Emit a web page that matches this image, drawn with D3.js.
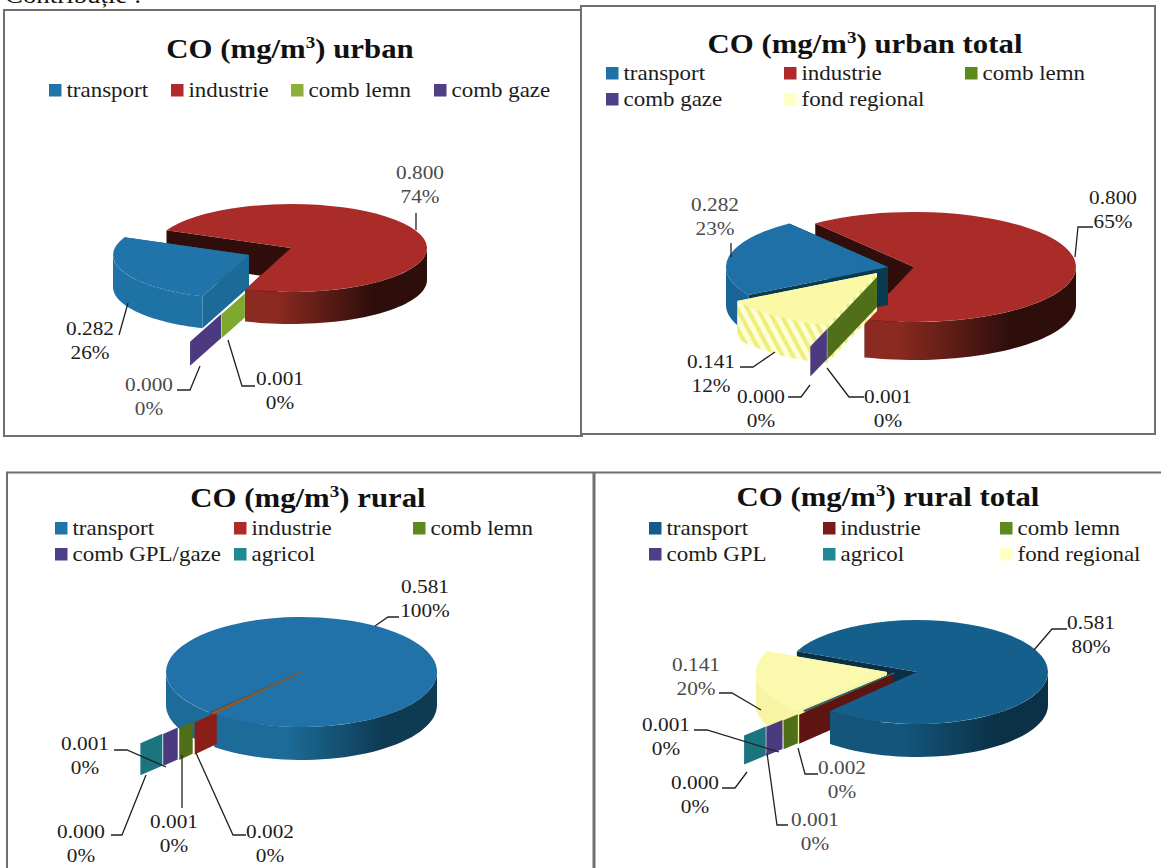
<!DOCTYPE html>
<html><head><meta charset="utf-8">
<script src="https://cdn.jsdelivr.net/npm/d3@7/dist/d3.min.js"></script>
<style>html,body{margin:0;padding:0;background:#fff;overflow:hidden}svg{display:block}
text{font-family:"Liberation Serif","Times New Roman",serif}</style></head>
<body><svg id="c" width="1161" height="868"></svg>
<script>
// ---- data ----
const titles = ["urban", "urban total", "rural", "rural total"];
const catsUrban = ["transport", "industrie", "comb lemn", "comb gaze"];
const catsUrbanTotal = ["transport", "industrie", "comb lemn", "comb gaze", "fond regional"];
const catsRural = ["transport", "industrie", "comb lemn", "comb GPL/gaze", "agricol"];
const catsRuralTotal = ["transport", "industrie", "comb lemn", "comb GPL", "agricol", "fond regional"];
const valsUrban = [0.282, 0.800, 0.001, 0.000];
const valsUrbanTotal = [0.282, 0.800, 0.001, 0.000, 0.141];
const valsRural = [0.581, 0.002, 0.001, 0.001, 0.000];
const valsRuralTotal = [0.581, 0.002, 0.001, 0.001, 0.000, 0.141];
const pctUrban = ["26%", "74%", "0%", "0%"];
const pctUrbanTotal = ["23%", "65%", "0%", "0%", "12%"];
const pctRural = ["100%", "0%", "0%", "0%", "0%"];
const pctRuralTotal = ["80%", "0%", "0%", "0%", "0%", "20%"];

// ---- style ----
const BLUE1 = {top:"#2074aa", wall:"#1b6a98", l:"#1f72a6", r:"#1a6a9c", key:"#2074aa"};
const BLUE = {top:"#2072a8", wall:"#18648f", l:"#1c6b98", r:"#0e3a52", key:"#2074aa"};
const BLUEU = {top:"#1e70a6", wall:"#0a3a50", l:"#19659a", r:"#14557c", key:"#1f72a8"};
const BLUE2 = {top:"#155f8c", wall:"#0b2f44", l:"#14557c", r:"#0b3146", key:"#125a88"};
const RED = {top:"#a92c28", wall:"#2f0e0c", l:"#8a2a20", r:"#2d0e0b", key:"#b02a2c"};
const RED2 = {top:"#6e1512", wall:"#5e1410", l:"#5e1410", r:"#3a0e0b", key:"#7a1a1a"};
const RED3 = {top:"#a0502a", wall:"#8a1f1a", key:"#b02a2c"};
const GRN = {top:"#7fa82f", wall:"#7fa82f", key:"#8db03a"};
const GRN2 = {top:"#58801c", wall:"#4f7018", key:"#5c8a1e"};
const PUR = {top:"#4b3a80", wall:"#4b3a80", key:"#4f3f86"};
const TEAL = {top:"#1b7580", wall:"#1b7580", key:"#1f8a94"};
const YEL = {top:"#fbf9a6", wall:"url(#hatch)", l:"#f6f4a0", r:"#f6f4a0", key:"#ffffc4"};
const YEL2 = {top:"#fbf9ae", wall:"#f7f5a2", l:"#f7f5a2", r:"#f7f5a2", key:"#ffffc4"};

const charts = [
 {title:titles[0], tx:290, ty:58, cats:catsUrban, vals:valsUrban, pct:pctUrban,
  fills:[BLUE1,RED,GRN,PUR], order:[1,0,2,3], prewall:[],
  cx:291, cy:248, rx:136, ry:44, depth:32, start:200, offset:[[-42,7],[0,0],[0,4],[0,4]],
  bands:[null,null,[1,1.5],[1.5,2.17]], tinyDepth:24, sliver:false,
  legend:[[49,90],[171,90],[291,90],[434,90]],
  labels:[
   {x:90,y:329,p:[[119,335],[128,303]]},
   {x:420,y:173,p:[[416,213],[416,230]],gray:1},
   {x:280,y:379,p:[[255,386],[242,386],[228,340]]},
   {x:149,y:385,p:[[177,390],[190,390],[200,366]],gray:1}]},
 {title:titles[1], tx:865, ty:53, cats:catsUrbanTotal, vals:valsUrbanTotal, pct:pctUrbanTotal,
  fills:[BLUEU,RED,GRN2,PUR,YEL], order:[1,0,4,2,3], prewall:[],
  cx:914, cy:267, rx:162, ry:55, depth:38, start:239.5, offset:[[-26,0],[0,0],[-37,10],[-37,10],[-37,6]],
  bands:[null,null,[0,1],[1,1.33],null], tinyDepth:30, sliver:false,
  legend:[[606,73],[784,73],[965,73],[606,99],[784,99]],
  labels:[
   {x:715,y:205,p:[[731,243],[731,257]],gray:1},
   {x:1113,y:198,p:[[1093,227],[1078,227],[1075,257]]},
   {x:888,y:397,p:[[864,397],[849,397],[827,368]]},
   {x:761,y:397,p:[[788,397],[801,397],[810,385]]},
   {x:711,y:362,p:[[740,367],[753,367],[775,352]]}]},
 {title:titles[2], tx:308, ty:507, cats:catsRural, vals:valsRural, pct:pctRural,
  fills:[BLUE,RED3,GRN2,PUR,TEAL], order:[0,4,3,2,1], prewall:[],
  cx:301.5, cy:672, rx:135.5, ry:55, depth:33, start:222.5, offset:[[0,0],[0,0],[0,0],[0,0],[0,0]],
  bands:[null,[.96,1.21],[1.21,1.36],[1.36,1.52],[1.52,1.76]], tinyDepth:32, sliver:true,
  legend:[[55,528],[234,528],[413,528],[55,554],[234,554]],
  labels:[
   {x:425,y:587,p:[[399,617],[388,617],[375,626]]},
   {x:270,y:832,p:[[246,835],[233,835],[196,753]]},
   {x:174,y:822,p:[[182,808],[182,755]]},
   {x:85,y:744,p:[[114,750],[127,750],[166,767]]},
   {x:81,y:832,p:[[111,835],[122,835],[146,775]]}]},
 {title:titles[3], tx:888, ty:506, cats:catsRuralTotal, vals:valsRuralTotal, pct:pctRuralTotal,
  fills:[BLUE2,RED2,GRN2,PUR,TEAL,YEL2], order:[5,1,2,3,4,0], prewall:[0],
  cx:917, cy:672, rx:131, ry:52, depth:33, start:293.5, offset:[[0,0],[-23,1],[-23,1],[-23,1],[-23,1],[-30,0]],
  bands:[null,[0,1.08],[1.08,1.24],[1.24,1.42],[1.42,1.66],null], tinyDepth:29, sliver:true,
  legend:[[649,528],[823,528],[1000,528],[649,554],[823,554],[1000,554]],
  labels:[
   {x:1091,y:623,p:[[1067,629],[1052,629],[1034,650]]},
   {x:842,y:768,p:[[818,774],[805,774],[798,748]],gray:1},
   {x:815,y:820,p:[[788,825],[777,825],[767,753]],gray:1},
   {x:666,y:725,p:[[694,730],[707,730],[779,752]]},
   {x:695,y:783,p:[[722,788],[735,788],[747,772]]},
   {x:696,y:665,p:[[719,693],[732,693],[761,710]],gray:1}]}
];
const panels = [[4,10,578,426],[581,6,574,428]];
const SX = 1.12, LABEL_FS = 19, LEGEND_FS = 20.5, TITLE_FS = 27.5;

const svg = d3.select("#c");
const defs = svg.append("defs");
const hatch = defs.append("pattern").attr("id","hatch").attr("patternUnits","userSpaceOnUse")
  .attr("width",9).attr("height",9).attr("patternTransform","rotate(-28)");
hatch.append("rect").attr("width",9).attr("height",9).attr("fill","#fdfdd8");
hatch.append("rect").attr("width",4).attr("height",9).attr("fill","#eeee78");

svg.append("rect").attr("width",1161).attr("height",868).attr("fill","#fff");
const bc = "#6f6f6f";
// clipped heading above the first panel
svg.append("g").attr("transform","translate(5,3) scale(1.12,1)").append("text")
  .attr("font-size",24).attr("fill","#111").text("Contribuție :");
panels.forEach(p => svg.append("rect").attr("x",p[0]).attr("y",p[1]).attr("width",p[2]).attr("height",p[3])
  .attr("fill","#fff").attr("stroke",bc).attr("stroke-width",2));
svg.append("line").attr("x1",6).attr("x2",1161).attr("y1",472.5).attr("y2",472.5).attr("stroke",bc).attr("stroke-width",2);
svg.append("line").attr("x1",7).attr("x2",7).attr("y1",472).attr("y2",868).attr("stroke",bc).attr("stroke-width",2);
svg.append("line").attr("x1",594).attr("x2",594).attr("y1",472).attr("y2",868).attr("stroke",bc).attr("stroke-width",3);

const stext = (g,x,y,anchor,fs) => g.append("g").attr("transform",`translate(${x},${y}) scale(${SX},1)`)
  .append("text").attr("text-anchor",anchor).attr("font-size",fs);
const arcGen = d3.arc().innerRadius(0).outerRadius(1);
const pieGen = d3.pie().sort(null).value(d=>d);
const line = d3.line();

charts.forEach((c,ci) => {
  const g = svg.append("g");
  // title
  const t = stext(g,c.tx,c.ty,"middle",TITLE_FS).attr("font-weight","bold").attr("fill","#111");
  t.append("tspan").text("CO (mg/m");
  t.append("tspan").attr("font-size",TITLE_FS*.62).attr("dy",-10).text("3");
  t.append("tspan").attr("dy",10).text(") "+c.title);
  // legend
  c.cats.forEach((name,i) => {
    const [lx,ly] = c.legend[i];
    g.append("rect").attr("x",lx).attr("y",ly-6).attr("width",12.5).attr("height",12.5).attr("fill",c.fills[i].key);
    stext(g,lx+17.5,ly+7,"start",LEGEND_FS).attr("fill","#1c1c1c").text(name);
  });
  // gradients for rim walls
  c.fills.forEach((f,i) => {
    if(!f.l) return;
    const gr = defs.append("linearGradient").attr("id",`w${ci}_${i}`).attr("gradientUnits","userSpaceOnUse")
      .attr("x1",c.cx-c.rx).attr("x2",c.cx+c.rx).attr("y1",0).attr("y2",0);
    [[0,f.l],[.45,f.l],[.8,f.r],[1,f.r]].forEach(s=>gr.append("stop").attr("offset",s[0]).attr("stop-color",s[1]));
  });

  const s0 = c.start*Math.PI/180;
  const arcs = pieGen.startAngle(s0).endAngle(s0+2*Math.PI)(c.vals);
  const X = (a,r,o) => c.cx + o[0] + r*c.rx*Math.sin(a);
  const Y = (a,r,o) => c.cy + o[1] - r*c.ry*Math.cos(a);
  const radial = (gg,a,r0,r1,o,dep,fill) => {
    const area = d3.area().x(r=>X(a,r,o)).y0(r=>Y(a,r,o)).y1(r=>Y(a,r,o)+dep);
    gg.append("path").attr("d",area([r0,r1])).attr("fill",fill);
  };
  c.prewall.forEach(i => {
    const d = arcs[i], gg = g.append("g");
    radial(gg,d.startAngle,0,1,c.offset[i],c.depth,c.fills[i].wall);
    radial(gg,d.endAngle,0,1,c.offset[i],c.depth,c.fills[i].wall);
  });
  c.order.forEach(i => {
    const d = arcs[i], f = c.fills[i], o = c.offset[i], gg = g.append("g");
    const band = c.bands[i];
    if(band){
      const a = (d.startAngle+d.endAngle)/2;
      radial(gg,a,band[0],band[1],o,c.tinyDepth,f.wall);
      if(c.sliver){
        gg.append("path").attr("d",arcGen(d))
          .attr("transform",`translate(${c.cx+o[0]},${c.cy+o[1]}) scale(${c.rx},${c.ry})`)
          .attr("fill",f.top).attr("stroke",f.top).attr("stroke-width",.7).attr("vector-effect","non-scaling-stroke");
      }
      return;
    }
    if(!c.prewall.includes(i)){
      radial(gg,d.startAngle,0,1,o,c.depth,f.wall);
      radial(gg,d.endAngle,0,1,o,c.depth,f.wall);
    }
    // front-facing part of the rim
    const wallFill = f.wall.startsWith("url") ? f.wall : `url(#w${ci}_${i})`;
    [0,1,2].forEach(k => {
      const lo = Math.max(d.startAngle,Math.PI/2+2*Math.PI*(k-1));
      const hi = Math.min(d.endAngle,3*Math.PI/2+2*Math.PI*(k-1));
      if(hi<=lo) return;
      const angs = d3.range(0,41).map(n=>lo+(hi-lo)*n/40);
      const area = d3.area().x(a=>X(a,1,o)).y0(a=>Y(a,1,o)).y1(a=>Y(a,1,o)+c.depth);
      gg.append("path").attr("d",area(angs)).attr("fill",wallFill);
    });
    gg.append("path").attr("d",arcGen(d))
      .attr("transform",`translate(${c.cx+o[0]},${c.cy+o[1]}) scale(${c.rx},${c.ry})`).attr("fill",f.top);
  });
  // data labels + leaders
  c.labels.forEach((l,i) => {
    const col = l.gray ? "#4a4a4a" : "#1c1c1c";
    stext(g,l.x,l.y+6,"middle",LABEL_FS).attr("fill",col).text(c.vals[i].toFixed(3));
    stext(g,l.x,l.y+30,"middle",LABEL_FS).attr("fill",col).text(c.pct[i]);
    g.append("path").attr("d",line(l.p)).attr("fill","none").attr("stroke","#222").attr("stroke-width",1.3);
  });
});
</script></body></html>
